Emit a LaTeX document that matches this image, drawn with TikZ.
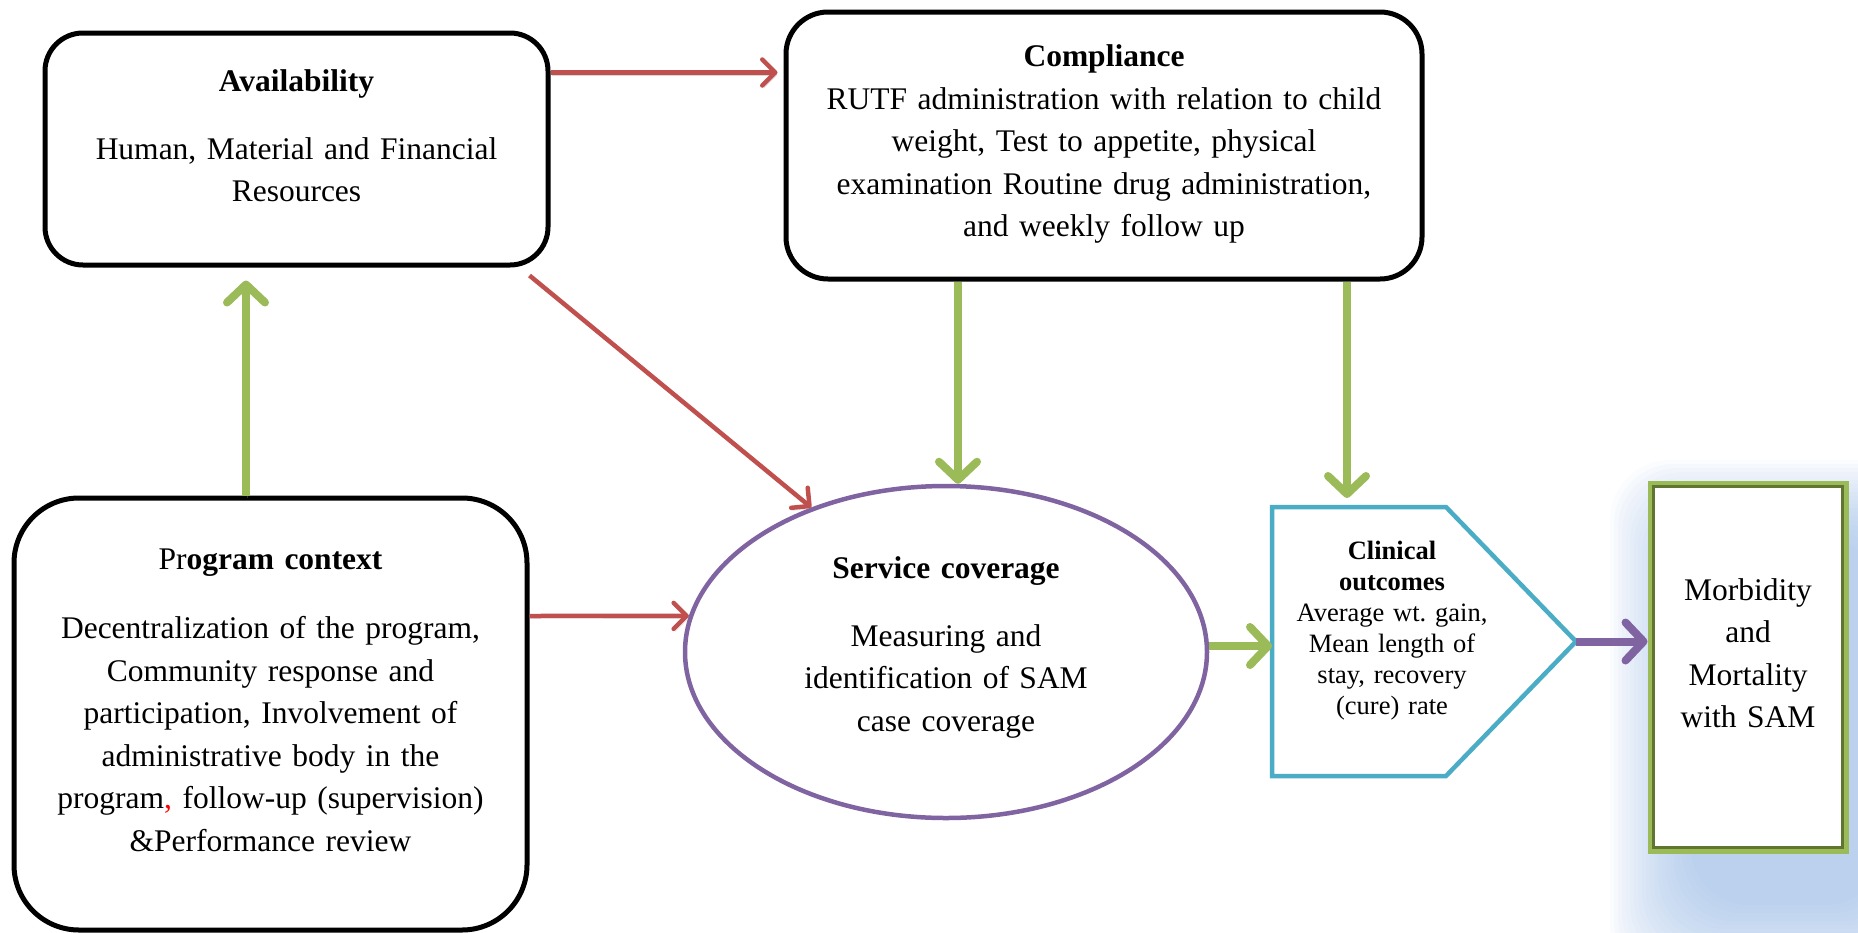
\documentclass[tikz,border=0pt]{standalone}
\usepackage{fontspec}
\setmainfont{Liberation Serif}
\usetikzlibrary{arrows.meta,calc,shapes.geometric}
\definecolor{cred}{HTML}{C0504D}
\definecolor{cgreen}{HTML}{9BBB59}
\definecolor{cpurple}{HTML}{8064A2}
\definecolor{cteal}{HTML}{4BACC6}
\definecolor{colive}{HTML}{5F7530}
\definecolor{cglow}{HTML}{8FB3E2}
\newcommand{\liftby}[1]{\par\nointerlineskip\vbox to #1{}}
\begin{document}
\frenchspacing
\begin{tikzpicture}[x=1pt,y=-1pt,
  every node/.style={inner sep=0pt, font=\fontsize{31.5pt}{42.5pt}\selectfont},
  rbox/.style={draw=black, line width=5pt, rounded corners=#1, fill=white, align=center, outer sep=2.5pt},
  servell/.style={ellipse, draw=cpurple, line width=4.5pt, fill=white, align=center, minimum width=522pt, minimum height=332pt, text width=300pt, outer sep=2.25pt},
  clinbox/.style={align=center, text width=220pt, minimum width=240pt, minimum height=269pt, outer sep=0pt, font=\fontsize{26.5pt}{31pt}\selectfont},
  morbbox/.style={draw=cgreen, line width=5pt, fill=white, align=center, minimum width=196pt, minimum height=368pt, text width=180pt, outer sep=2.5pt},
  arrowshade/.style={preaction={draw=black!45, opacity=0.35, transform canvas={shift={(1.5pt,-2.5pt)}}}},
  redarrow/.style={draw=cred, line width=4.5pt, -{Straight Barb[length=13pt,width=26pt,line cap=round,line join=round]}, arrowshade},
  greenarrow/.style={draw=cgreen, line width=8pt, -{Straight Barb[length=18pt,width=38pt,line cap=round,line join=round]}, arrowshade},
  purplearrow/.style={draw=cpurple, line width=8pt, -{Straight Barb[length=18pt,width=38pt,line cap=round,line join=round]}, arrowshade}
]
\useasboundingbox (0,0) rectangle (1858,932);

% soft blue glow behind the outcome box
\begin{scope}
\clip (0,0) rectangle (1858,932);
\foreach \e in {0,4,...,80} {
  \fill[cglow, opacity=0.045, rounded corners=60pt] (1690-\e,540-\e) rectangle (1885+\e,905+\e);
}
\end{scope}

% nodes
\node[rbox=38pt, minimum width=503pt, minimum height=232pt, text width=480pt] (avail) at (296.5,149)
  {\textbf{Availability}\\[25pt] Human, Material and Financial\\ Resources\liftby{26pt}};

\node[rbox=42pt, minimum width=636pt, minimum height=267pt, text width=600pt] (comp) at (1104,145.5)
  {\textbf{Compliance}\\ RUTF administration with relation to child\\ weight, Test to appetite, physical\\ examination Routine drug administration,\\ and weekly follow up\liftby{3pt}};

\node[rbox=65pt, minimum width=513pt, minimum height=432pt, text width=490pt] (prog) at (270.5,714)
  {Pr\textbf{ogram context}\\[27pt] Decentralization of the program,\\ Community response and\\ participation, Involvement of\\ administrative body in the\\ program{\color{red},} follow-up (supervision)\\ \&Performance review\liftby{28pt}};

\node[servell] (serv) at (946,652)
  {\textbf{Service coverage}\\[25pt] Measuring and\\ identification of SAM\\ case coverage\liftby{9pt}};

\node[clinbox] (clin) at (1392,641.5)
  {\textbf{Clinical}\\ \textbf{outcomes}\\ Average wt. gain,\\ Mean length of\\ stay, recovery\\ (cure) rate\liftby{22pt}};
\draw[cteal, line width=4.5pt, line join=miter]
  (clin.north west) -- ([xshift=-66pt]clin.north east) -- ([xshift=64pt]clin.east) coordinate (cliptip)
  -- ([xshift=-66pt]clin.south east) -- (clin.south west) -- cycle;

\node[morbbox] (morb) at (1748,667)
  {Morbidity\\ and\\ Mortality\\ with SAM\liftby{28pt}};
\draw[colive, line width=2.5pt] ([shift={(6.2pt,-6.2pt)}]morb.north west) rectangle ([shift={(-6.2pt,6.2pt)}]morb.south east);

% connectors
\coordinate (r1s) at ([yshift=-42pt]avail.north east);
\draw[redarrow, shorten >=6pt] (r1s) -- (r1s -| comp.west);
\draw[redarrow] ([shift={(-21pt,-8pt)}]avail.south east) -- (serv.133);
\coordinate (r3s) at ([yshift=-120.5pt]prog.north east);
\draw[redarrow] (r3s) -- (serv.172);

\coordinate (g0s) at ([xshift=-24.5pt]prog.north);
\draw[greenarrow, shorten >=13pt] (g0s) -- (g0s |- avail.south);
\coordinate (g1s) at ([xshift=-146pt]comp.south);
\draw[greenarrow] (g1s) -- (g1s |- serv.north);
\coordinate (g2s) at ([xshift=243pt]comp.south);
\draw[greenarrow, shorten >=9pt] (g2s) -- (g2s |- clin.north);
\coordinate (g3s) at ([yshift=6pt]serv.east);
\draw[greenarrow] (g3s) -- (g3s -| clin.west);

\draw[purplearrow] (cliptip) -- (cliptip -| morb.west);
\end{tikzpicture}
\end{document}
